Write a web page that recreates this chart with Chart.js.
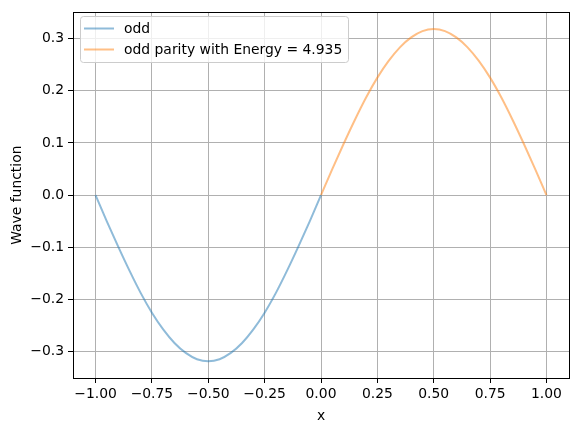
<!DOCTYPE html>
<html>
<head>
<meta charset="utf-8">
<script src="https://cdn.jsdelivr.net/npm/chart.js@4"></script>
<style>
  html, body { margin: 0; padding: 0; background: #fff; }
  #wrap { width: 578px; height: 432px; }
</style>
</head>
<body>
<div id="wrap"><canvas id="myChart" width="578" height="432"></canvas></div>
<script>
// values
var xOdd = [-1.00,-0.95,-0.90,-0.85,-0.80,-0.75,-0.70,-0.65,-0.60,-0.55,-0.50,
            -0.45,-0.40,-0.35,-0.30,-0.25,-0.20,-0.15,-0.10,-0.05,0.00];
var yOdd = [0.000,-0.050,-0.098,-0.144,-0.187,-0.225,-0.257,-0.283,-0.302,-0.314,-0.318,
            -0.314,-0.302,-0.283,-0.257,-0.225,-0.187,-0.144,-0.098,-0.050,0.000];
var xPar = [0.00,0.05,0.10,0.15,0.20,0.25,0.30,0.35,0.40,0.45,0.50,
            0.55,0.60,0.65,0.70,0.75,0.80,0.85,0.90,0.95,1.00];
var yPar = [0.000,0.050,0.098,0.144,0.187,0.225,0.257,0.283,0.302,0.314,0.318,
            0.314,0.302,0.283,0.257,0.225,0.187,0.144,0.098,0.050,0.000];
var xTicks = [-1.00,-0.75,-0.50,-0.25,0.00,0.25,0.50,0.75,1.00];
var yTicks = [-0.3,-0.2,-0.1,0.0,0.1,0.2,0.3];
var labels = ["odd", "odd parity with Energy = 4.935"];
var colors = ["rgba(31,119,180,0.5)", "rgba(255,127,14,0.5)"];

function pts(xs, ys) {
    return xs.map(function (x, i) { return {x: x, y: ys[i]}; });
}
function minus(s) { return s.replace("-", "\u2212"); }

var FS = 13.9;
Chart.defaults.font.family = "'DejaVu Sans', sans-serif";
Chart.defaults.font.size = FS;
Chart.defaults.color = "#000";

// frame + legend box like matplotlib
var framePlugin = {
    id: "frame",
    afterDraw: function (chart) {
        var ctx = chart.ctx, a = chart.chartArea;
        ctx.save();
        ctx.strokeStyle = "#000";
        ctx.lineWidth = 1;
        ctx.strokeRect(Math.round(a.left) + 0.5, Math.round(a.top) + 0.5,
                       Math.round(a.right - a.left), Math.round(a.bottom - a.top));

        // legend
        var bx = 80.5, by = 16.5, bw = 268, bh = 46, r = 3;
        ctx.beginPath();
        ctx.moveTo(bx + r, by);
        ctx.arcTo(bx + bw, by, bx + bw, by + bh, r);
        ctx.arcTo(bx + bw, by + bh, bx, by + bh, r);
        ctx.arcTo(bx, by + bh, bx, by, r);
        ctx.arcTo(bx, by, bx + bw, by, r);
        ctx.closePath();
        ctx.fillStyle = "rgba(255,255,255,0.8)";
        ctx.fill();
        ctx.strokeStyle = "#cccccc";
        ctx.stroke();
        ctx.font = FS + "px 'DejaVu Sans', sans-serif";
        ctx.textBaseline = "middle";
        ctx.fillStyle = "#000";
        for (var i = 0; i < labels.length; i++) {
            var ly = 28.5 + i * 21;
            ctx.strokeStyle = colors[i];
            ctx.lineWidth = 2;
            ctx.beginPath();
            ctx.moveTo(84, ly);
            ctx.lineTo(114, ly);
            ctx.stroke();
            ctx.fillText(labels[i], 124, ly + 0.5);
        }
        ctx.restore();
    }
};

new Chart(document.getElementById("myChart"), {
    type: "scatter",
    data: {
        datasets: [{
            label: labels[0],
            data: pts(xOdd, yOdd),
            showLine: true,
            borderColor: colors[0],
            borderWidth: 2,
            pointRadius: 0,
            cubicInterpolationMode: "monotone"
        }, {
            label: labels[1],
            data: pts(xPar, yPar),
            showLine: true,
            borderColor: colors[1],
            borderWidth: 2,
            pointRadius: 0,
            cubicInterpolationMode: "monotone"
        }]
    },
    options: {
        responsive: false,
        animation: false,
        layout: {padding: {top: 10, right: 9, left: 0, bottom: 0}},
        plugins: {legend: {display: false}, tooltip: {enabled: false}},
        scales: {
            x: {
                type: "linear",
                min: -1.1, max: 1.1,
                afterBuildTicks: function (s) { s.ticks = xTicks.map(function (v) { return {value: v}; }); },
                afterFit: function (s) { s.height = 54; },
                ticks: {
                    callback: function (v) { return minus(v.toFixed(2)); },
                    padding: 3, maxRotation: 0, autoSkip: false
                },
                grid: {color: "#b0b0b0", tickColor: "#000", tickLength: 5, lineWidth: 1},
                border: {display: false},
                title: {display: true, text: "x", padding: {top: 4, bottom: 7}}
            },
            y: {
                min: -0.35, max: 0.35,
                afterBuildTicks: function (s) { s.ticks = yTicks.map(function (v) { return {value: v}; }); },
                afterFit: function (s) { s.width = 73; },
                ticks: {
                    callback: function (v) { return minus(v.toFixed(1)); },
                    padding: 4, autoSkip: false
                },
                grid: {color: "#b0b0b0", tickColor: "#000", tickLength: 5, lineWidth: 1},
                border: {display: false},
                title: {display: true, text: "Wave function", padding: {top: 9, bottom: 4}}
            }
        }
    },
    plugins: [framePlugin]
});
</script>
</body>
</html>
